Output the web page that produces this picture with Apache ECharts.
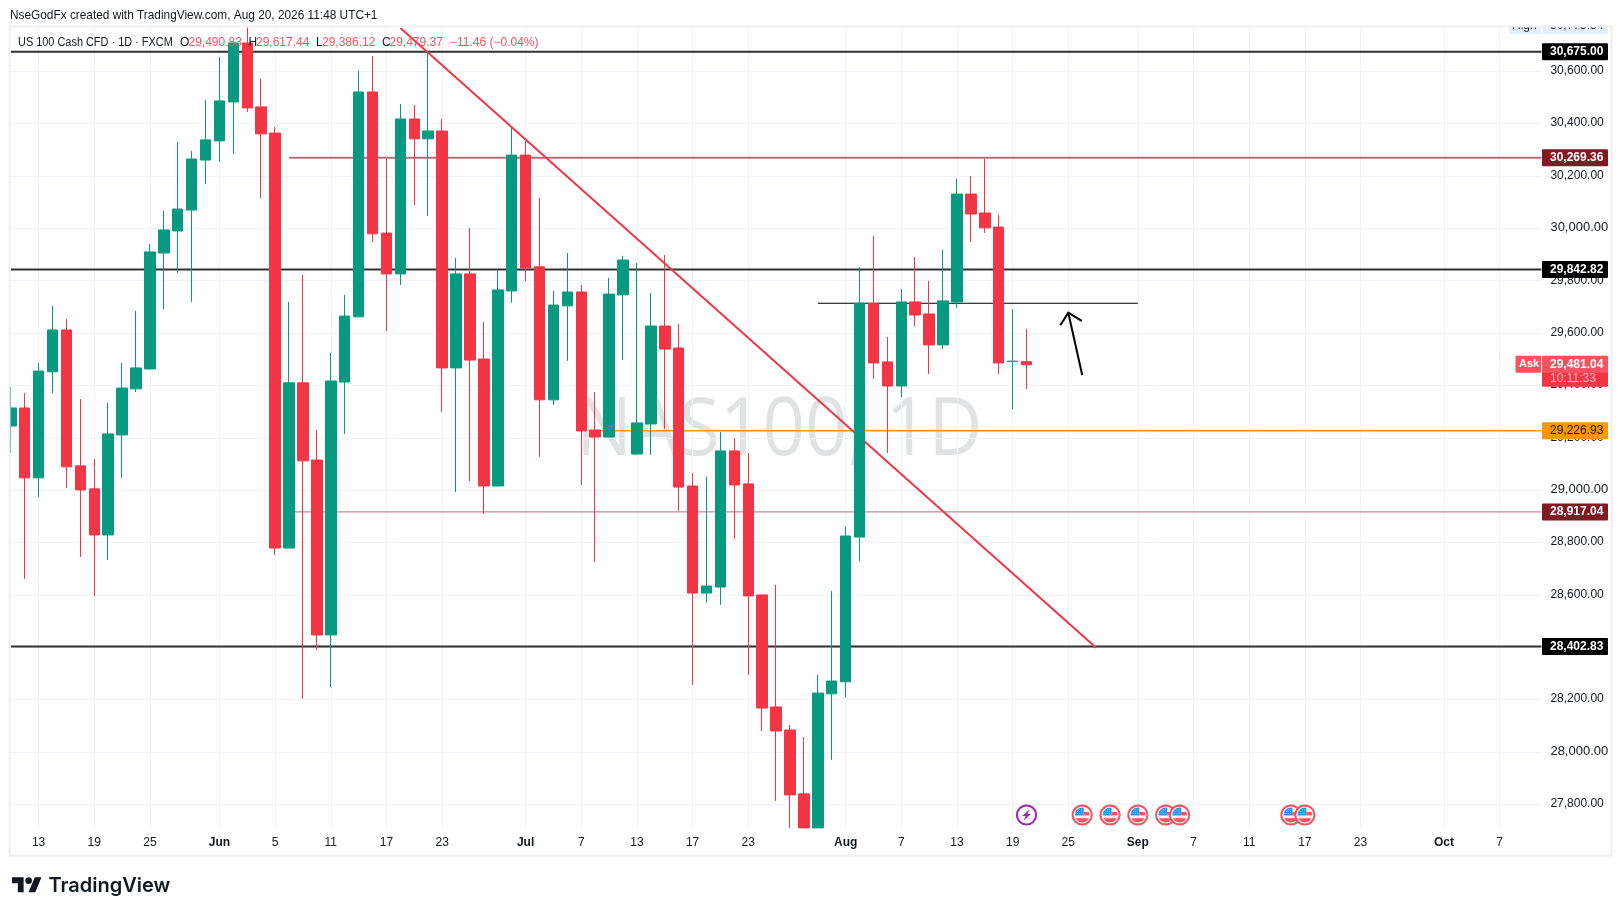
<!DOCTYPE html>
<html><head><meta charset="utf-8">
<style>html,body{margin:0;padding:0;background:#fff}#c{width:1623px;height:916px}</style>
<script src="https://cdn.jsdelivr.net/npm/echarts@6/dist/echarts.min.js"></script>
</head><body><div id="c"></div>
<script>
const tickIndex = [2,6,10,15,19,23,27,31,37,41,45,49,53,60,64,68,72,76,81,85,89,93,97,103,107];
const tickLabel = ['13','19','25','Jun','5','11','17','23','Jul','7','13','17','23','Aug','7','13','19','25','Sep','7','11','17','23','Oct','7'];
const yTicks = [27800,28000,28200,28400,28600,28800,29000,29200,29400,29600,29800,30000,30200,30400,30600];
const opens = [29245,29314,29047,29452,29612,29093,29005,28829,29211,29387,29463,29906,29990,30070,30261,30334,30483,30708,30464,30364,28779,29410,29115,28447,29413,29662,30521,29982,29826,30418,30342,30372,29467,29826,29501,29016,29761,30280,29853,29345,29704,29757,29230,29203,29746,29138,29253,29627,29543,29016,28607,28630,29150,29024,28600,28172,28084,27840,27710,28222,28268,28821,29714,29490,29398,29719,29673,29555,29719,30131,30059,30005,29491,29491];
const closes = [29314,29047,29455,29612,29089,29001,28829,29215,29390,29467,29910,29994,30074,30265,30338,30487,30708,30460,30361,28779,29410,29112,28447,29417,29665,30521,29979,29826,30418,30342,30372,29467,29826,29497,29016,29765,30280,29849,29345,29707,29757,29226,29203,29749,29879,29257,29627,29539,29012,28607,28634,29150,29020,28596,28168,28080,27836,27710,28225,28271,28825,29714,29486,29398,29719,29669,29555,29723,30131,30055,30002,29486,29493,29479];
const lows = [29142,28661,28974,29371,29009,28745,28596,28733,29047,29375,29463,29692,29830,29719,30170,30254,30284,30445,30116,28753,28779,28203,28390,28248,29215,29662,29948,29608,29784,30089,30047,29299,28993,29035,28909,29016,29716,29799,29127,29326,29494,29020,28726,29203,29497,29138,29135,29234,28921,28256,28570,28562,28814,28294,28080,27813,27710,27710,27710,27970,28210,28730,29425,29142,29356,29627,29444,29539,29696,29948,29982,29444,29310,29386];
const highs = [29394,29371,29486,29704,29654,29348,29119,29333,29486,29685,29940,30067,30330,30296,30490,30655,30708,30768,30571,30387,29719,29822,29230,29524,29746,30601,30659,30265,30475,30471,30678,30418,29887,30002,29643,29837,30384,30334,30116,29761,29906,29784,29375,29811,29895,29868,29753,29898,29635,29066,29051,29222,29199,29142,28600,28638,28103,28057,28294,28615,28860,29853,29971,29585,29769,29891,29799,29918,30189,30200,30265,30051,29692,29617];
const blackLevels = [30675, 29842.82, 28402.83];
const redLevels = [30269.36, 28917.04];
const orangeLevel = 29226.93;
const trendStart = [28, 30765];
const trendEnd = [78, 28398];
const shortLine = [[58, 29714], [81, 29714]];
const arrowTip = [76, 29678];
const arrowTail = [77, 29440];
const askPrice = 29481.04;
const highPrice = 30775;
const flagEvents = [77,79,81,83,84,92,93];
const boltEvents = [73];

const FONT = '"Liberation Sans", Arial, sans-serif';
const UP = '#089981', DOWN = '#f23645', SALMON = '#f7525f', GRID = '#f0f3fa';
const N = 111, GRID_L = 10.77, GRID_R = 1541.4, GRID_T = 27, GRID_B = 828;
const cats = new Array(N).fill('');
tickIndex.forEach((ix, k) => { cats[ix] = tickLabel[k]; });
const months = new Set(['Jun','Jul','Aug','Sep','Oct']);
const fmt = v => Number(v).toLocaleString('en-US', {minimumFractionDigits: 2, maximumFractionDigits: 2});
const candles = opens.map((o, i) => [o, closes[i], lows[i], highs[i]]);

const hLine = (name, x0, x1, p, color, width) => ({
  name, type: 'line', z: 1, symbol: 'none', silent: true, animation: false,
  data: [[x0, p], [x1, p]], lineStyle: {color, width, cap: 'butt'}
});

const tags = [
  {p: 30675, text: '30,675.00', bg: '#000000', fg: '#ffffff'},
  {p: 30269.36, text: '30,269.36', bg: '#801922', fg: '#ffffff'},
  {p: 29842.82, text: '29,842.82', bg: '#000000', fg: '#ffffff'},
  {p: 29226.93, text: '29,226.93', bg: '#ff9800', fg: '#131722'},
  {p: 28917.04, text: '28,917.04', bg: '#801922', fg: '#ffffff'},
  {p: 28402.83, text: '28,402.83', bg: '#000000', fg: '#ffffff'}
];

function tagBox(x, y, w, h, bg) {
  return {type: 'rect', shape: {x, y, width: w, height: h, r: 1}, style: {fill: bg}};
}
function tagText(x, y, text, fg, size, weight) {
  return {type: 'text', style: {x, y, text, fill: fg, font: (weight || 'normal') + ' ' + (size || 12) + 'px ' + FONT, verticalAlign: 'middle', textAlign: 'left'}};
}
const legendText = (x, text, fill, scaleX) => ({
  type: 'text', z: 9, silent: true, x, y: 43, scaleX: scaleX || 1,
  style: {text, font: '12px ' + FONT, fill, verticalAlign: 'middle'}
});

const option = {
  backgroundColor: '#ffffff',
  animation: false,
  grid: {left: GRID_L, top: GRID_T, width: GRID_R - GRID_L, height: GRID_B - GRID_T, containLabel: false},
  xAxis: {
    type: 'category', data: cats, boundaryGap: false,
    axisLine: {show: false}, axisTick: {show: false},
    axisLabel: {
      interval: (i, v) => v !== '', margin: 9, color: '#131722', fontFamily: FONT, fontSize: 12, hideOverlap: false,
      formatter: v => months.has(v) ? '{m|' + v + '}' : v,
      rich: {m: {fontWeight: 'bold', fontSize: 12, color: '#131722', fontFamily: FONT}}
    },
    splitLine: {show: true, interval: (i, v) => v !== '', lineStyle: {color: GRID, width: 1}}
  },
  yAxis: {
    type: 'value', position: 'right', min: 27709.6, max: 30769.2, scale: true,
    axisLine: {show: false},
    axisTick: {show: false, customValues: yTicks},
    splitLine: {show: true, lineStyle: {color: GRID, width: 1}},
    axisLabel: {
      customValues: yTicks, margin: 9, color: '#131722', fontFamily: FONT, fontSize: 12,
      formatter: v => v % 1000 === 0 ? '{b|' + fmt(v) + '}' : '{n|' + fmt(v) + '}',
      rich: {
        b: {fontSize: 13, fontFamily: FONT, color: '#131722', padding: [0,0,1,0]},
        n: {fontSize: 12, fontFamily: FONT, color: '#131722', padding: [0,0,1,0]}
      }
    }
  },
  series: [
    ...blackLevels.map((p, i) => hLine('level' + i, 0, N - 1, p, '#303030', 2)),
    hLine('res', 20, N - 1, redLevels[0], '#b2707a', 2),
    hLine('sup', 20, N - 1, redLevels[1], '#b2707a', 1),
    hLine('pivot', 42, N - 1, orangeLevel, '#ff9800', 1.5),
    {name: 'neck', type: 'line', z: 1, symbol: 'none', silent: true, data: shortLine, lineStyle: {color: '#000', width: 1.2}},
    {name: 'trend', type: 'line', z: 1, symbol: 'none', silent: true, data: [trendStart, trendEnd], lineStyle: {color: DOWN, width: 2}},
    {
      name: 'US 100', type: 'candlestick', z: 3, data: candles, barWidth: 11, clip: true,
      itemStyle: {color: UP, color0: DOWN, borderColor: UP, borderColor0: DOWN, borderWidth: 1, borderColorDoji: UP}
    },
    {
      name: 'arrow', type: 'custom', z: 5, silent: true, data: [[arrowTip[0], arrowTip[1]]],
      encode: {x: 0, y: 1},
      renderItem: (params, api) => {
        const tip = api.coord(arrowTip), tail = api.coord(arrowTail);
        const st = {stroke: '#000', lineWidth: 2, fill: null, lineCap: 'butt'};
        return {type: 'group', children: [
          {type: 'polyline', shape: {points: [tail, tip]}, style: st},
          {type: 'polyline', shape: {points: [[tip[0] - 8, tip[1] + 12.6], tip, [tip[0] + 13.4, tip[1] + 8.3]]}, style: st}
        ]};
      }
    },
    {
      name: 'tags', type: 'custom', z: 6, silent: true, data: tags.map(t => [N - 1, t.p]),
      encode: {x: 0, y: 1},
      renderItem: (params, api) => {
        const t = tags[params.dataIndex];
        const y = api.coord([N - 1, t.p])[1];
        return {type: 'group', children: [
          tagBox(1542, y - 8.5, 66, 17, t.bg),
          tagText(1550, y, t.text, t.fg, 12, t.fg === '#ffffff' ? 'bold' : 'normal')
        ]};
      }
    },
    {
      name: 'ask', type: 'custom', z: 6, silent: true, data: [[N - 1, askPrice]],
      encode: {x: 0, y: 1},
      renderItem: (params, api) => {
        const y = api.coord([N - 1, askPrice])[1];
        return {type: 'group', children: [
          tagBox(1515.5, y - 8.5, 25.5, 17, SALMON),
          tagText(1519, y, 'Ask', '#ffffff', 11, 'bold'),
          tagBox(1542, y + 2, 66, 20.5, DOWN),
          tagBox(1542, y - 8.5, 66, 17, SALMON),
          tagText(1550, y, fmt(askPrice), '#ffffff', 12, 'bold'),
          tagText(1550, y + 14, '10:11:33', 'rgba(255,255,255,0.62)', 12)
        ]};
      }
    },
    {
      name: 'high', type: 'custom', z: 6, silent: true, data: [[N - 1, highPrice]],
      encode: {x: 0, y: 1},
      renderItem: (params, api) => {
        const y = api.coord([N - 1, highPrice])[1];
        return {type: 'group',
          clipPath: {type: 'rect', shape: {x: 1500, y: GRID_T, width: 120, height: 20}},
          children: [
            tagBox(1509, y - 8.5, 32, 17, '#e3effd'),
            tagText(1512, y, 'High', '#131722', 12),
            tagBox(1542, y - 8.5, 66, 17, '#e3effd'),
            tagText(1550, y, fmt(highPrice + 0.84), '#131722', 12)
          ]};
      }
    },
    {
      name: 'flags', type: 'custom', z: 6, silent: true, data: flagEvents.map(i => [i, 27800]),
      encode: {x: 0, y: 1},
      renderItem: (params, api) => {
        const cx = api.coord([api.value(0), 27800])[0], cy = GRID_B - 13;
        const cells = [];
        for (let a = 0; a < 4; a++) for (let b = 0; b < 3; b++) {
          cells.push({type: 'rect', shape: {x: cx - 7 + a * 2, y: cy - 6 + b * 2, width: 0.8, height: 0.8}, style: {fill: '#bbdefb'}});
        }
        return {type: 'group', children: [
          {type: 'circle', shape: {cx, cy, r: 9.6}, style: {fill: '#fff', stroke: SALMON, lineWidth: 2}},
          {type: 'group', clipPath: {type: 'circle', shape: {cx, cy, r: 7.4}}, children: [
            {type: 'rect', shape: {x: cx - 8, y: cy - 8, width: 9.5, height: 8.5}, style: {fill: '#2196f3'}},
            {type: 'rect', shape: {x: cx + 1.5, y: cy - 3, width: 7, height: 3.5}, style: {fill: SALMON}},
            {type: 'rect', shape: {x: cx - 8, y: cy + 3.2, width: 16, height: 5}, style: {fill: SALMON}},
            ...cells
          ]}
        ]};
      }
    },
    {
      name: 'bolt', type: 'custom', z: 6, silent: true, data: boltEvents.map(i => [i, 27800]),
      encode: {x: 0, y: 1},
      renderItem: (params, api) => {
        const cx = api.coord([api.value(0), 27800])[0], cy = GRID_B - 13;
        return {type: 'group', children: [
          {type: 'circle', shape: {cx, cy, r: 9.6}, style: {fill: '#fff', stroke: '#9c27b0', lineWidth: 2}},
          {type: 'polygon', shape: {points: [[cx + 3, cy - 5.5], [cx - 4.5, cy + 1], [cx - 1, cy + 1], [cx - 3, cy + 5.5], [cx + 4.5, cy - 1], [cx + 1, cy - 1]]}, style: {fill: '#9c27b0'}}
        ]};
      }
    }
  ],
  graphic: {elements: [
    {type: 'rect', z: 8, silent: true, shape: {x: 0, y: 27, width: 9.5, height: 801}, style: {fill: '#ffffff'}},
    {type: 'rect', z: 9, silent: true, shape: {x: 9.5, y: 26.5, width: 1602, height: 829}, style: {fill: null, stroke: '#f0f0f0', lineWidth: 2}},
    {type: 'text', z: -1, silent: true, x: 576, y: 432, scaleX: 0.93, style: {text: 'NAS100, 1D', font: '80px "Open Sans", ' + FONT, fill: 'rgba(120,123,134,0.22)', verticalAlign: 'middle', textAlign: 'left'}},
    {type: 'text', z: 9, silent: true, x: 10, y: 15.7, style: {text: 'NseGodFx created with TradingView.com, Aug 20, 2026 11:48 UTC+1', font: '11.85px ' + FONT, fill: '#131722', verticalAlign: 'middle'}},
    legendText(18, 'US 100 Cash CFD · 1D · FXCM', '#131722', 0.91),
    legendText(180, 'O', '#131722'),
    legendText(188.5, '29,490.83', SALMON),
    legendText(248.5, 'H', '#131722'),
    legendText(256, '29,617.44', SALMON),
    legendText(316, 'L', '#131722'),
    legendText(322, '29,386.12', SALMON),
    legendText(382, 'C', '#131722'),
    legendText(389.5, '29,479.37', SALMON),
    legendText(450, '−11.46 (−0.04%)', SALMON),
    {type: 'group', z: 9, silent: true, x: 12, y: 874, scaleX: 0.83, scaleY: 0.83, children: [
      {type: 'polygon', shape: {points: [[0,4],[14,4],[14,22],[7,22],[7,11],[0,11]]}, style: {fill: '#131722'}},
      {type: 'polygon', shape: {points: [[27.5,4],[35.5,4],[28,22],[20,22]]}, style: {fill: '#131722'}},
      {type: 'circle', shape: {cx: 20, cy: 8, r: 4}, style: {fill: '#131722'}}
    ]},
    {type: 'text', z: 9, silent: true, x: 48.5, y: 886, style: {text: 'TradingView', font: '600 20px Inter, ' + FONT, fill: '#131722', verticalAlign: 'middle'}}
  ]}
};
const chart = echarts.init(document.getElementById('c'), null, {renderer: 'canvas', width: 1623, height: 916});
chart.setOption(option);
</script></body></html>
